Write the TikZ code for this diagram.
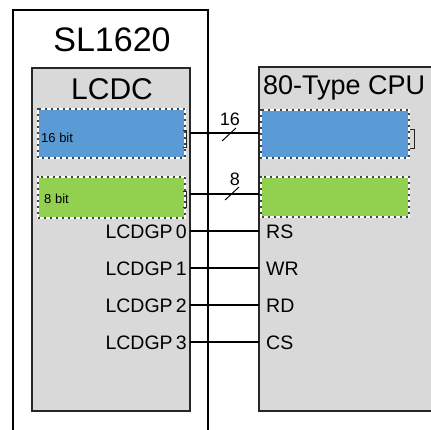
\documentclass[tikz,border=0pt]{standalone}
\usepackage{fontspec}
\setmainfont{Liberation Sans}
\definecolor{boxgray}{HTML}{D9D9D9}
\definecolor{regblue}{HTML}{5B9BD5}
\definecolor{reggreen}{HTML}{92D050}
\begin{document}
\begin{tikzpicture}[x=1pt,y=-1pt,
  outerbox/.style={draw=black,line width=2pt,fill=white},
  chipbox/.style={draw=black!85,line width=1.6pt,fill=boxgray},
  wire/.style={draw=black,line width=1.4pt},
  pin/.style={font=\fontsize{19.5}{19.5}\selectfont,inner sep=0pt},
  small/.style={font=\fontsize{13}{13}\selectfont,inner sep=0pt},
  brk/.style={draw=black!85,line width=1pt}]
\useasboundingbox (0,0) rectangle (431,429);
\clip (0,0) rectangle (431,429);
% outer SL1620 box
\draw[outerbox] (13,10) rectangle (208,440);
\node[font=\fontsize{34}{34}\selectfont] (sl) at (112,40) {SL1620};
% LCDC box
\draw[chipbox] (32,68) rectangle (190,411);
\node[font=\fontsize{30}{30}\selectfont] (lcdc) at (112,89) {LCDC};
% CPU box
\draw[chipbox] (259,67) rectangle (445,411);
\node[font=\fontsize{27}{27}\selectfont,anchor=west,inner sep=0pt] (cpu) at (263,88) {80-Type CPU};
% registers
\foreach \x/\y/\w/\h/\c/\n in {38/109/147/49/regblue/lb, 38/177/147/41/reggreen/lg, 261/110/148/48/regblue/cb, 261/177/148/40/reggreen/cg}{
  \fill[\c] (\x,\y) rectangle ++(\w,\h);
  \draw[white,line width=1.2pt] (\x,\y) rectangle ++(\w,\h);
  \draw[black,line width=2.4pt,dash pattern=on 0pt off 6pt,line cap=round] (\x,\y) rectangle ++(\w,\h);
  \coordinate (\n) at (\x,\y);
}
\node[small,anchor=west] (b16) at (41,138) {16 bit};
\node[small,anchor=west] (b8) at (44,199) {8 bit};
% small bracket marks
\draw[brk] (183,130) -- (186,130) -- (186,147) -- (183,147);
\draw[brk] (183,191) -- (186,191) -- (186,207) -- (183,207);
\draw[brk] (410,129) -- (414,129) -- (414,148) -- (410,148);
% bus lines
\coordinate (b16l) at (190,133); \coordinate (b16r) at (259,133);
\coordinate (b8l) at (190,194); \coordinate (b8r) at (259,194);
\draw[wire] (b16l) -- (b16r);
\draw[wire] (b8l) -- (b8r);
\coordinate (s16a) at (222,141); \coordinate (s16b) at (236,128);
\coordinate (s8a) at (225,200); \coordinate (s8b) at (239,187);
\draw[line width=1pt] (s16a) -- (s16b);
\draw[line width=1pt] (s8a) -- (s8b);
\node[font=\fontsize{18}{18}\selectfont,inner sep=0pt] (n16) at (230,119) {16};
\node[font=\fontsize{18}{18}\selectfont,inner sep=0pt] (n8) at (235,179) {8};
% control signals
\foreach \i/\y/\s in {0/232/RS,1/269/WR,2/306/RD,3/343/CS}{
  \node[pin,anchor=east] (gp\i) at (187,\y) {LCDGP\,\i};
  \node[pin,anchor=west] (sig\i) at (266,\y) {\s};
  \coordinate (gl\i) at (190,\y-1);
  \coordinate (gr\i) at (259,\y-1);
  \draw[wire] (gl\i) -- (gr\i);
}
\end{tikzpicture}
\end{document}
